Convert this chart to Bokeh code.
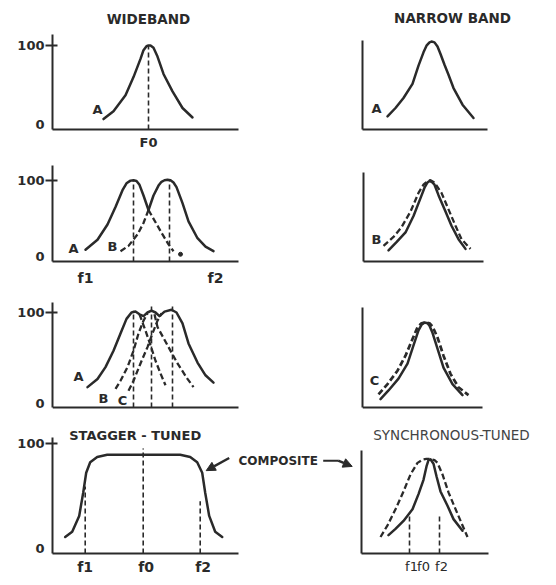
from bokeh.plotting import figure
from bokeh.layouts import column, row
from bokeh.models import FixedTicker, Arrow, NormalHead
from bokeh.core.properties import value
from bokeh.embed import file_html
from bokeh.resources import INLINE

INK = "#2a2a2a"
FONT = "DejaVu Sans"
DASH = "6 3"

# ---------------- data (frequency offset from centre, % response) ----------------
# Row 1, wideband: single stage A
WB1_A_X = [-45, -35, -23, -15, -8, -5, -2, 0, 2, 5, 9, 15, 24, 34, 44]
WB1_A_Y = [7, 17, 37, 60, 83, 94, 99, 100, 100, 97, 86, 64, 42, 21, 9]
WB1_F0 = 0
# Row 1, narrow band: single stage A
NB1_A_X = [-44, -36, -28, -19, -13, -8, -5, -2, 0, 3, 6, 9, 13, 17, 22, 31, 42]
NB1_A_Y = [10, 20, 32, 49, 71, 87, 95, 99, 100, 99, 94, 85, 72, 60, 44, 24, 8]

# Row 2, wideband: A and B staggered
WB2_A_SOLID_X = [-66, -54, -44, -36, -29, -25, -21, -18, -15, -12, -8, -3]
WB2_A_SOLID_Y = [9, 22, 42, 65, 87, 96, 99.5, 100, 99, 94, 80, 61]
WB2_A_TAIL_X = [-3, 4, 11, 17, 22]
WB2_A_TAIL_Y = [61, 45, 29, 16, 7]
WB2_B_RISE_X = [-31, -23, -14, -8, -3]
WB2_B_RISE_Y = [7, 14, 29, 44, 61]
WB2_B_SOLID_X = [-3, 2, 7, 10, 13, 16, 19, 22, 25, 31, 37, 46, 54, 62]
WB2_B_SOLID_Y = [61, 80, 93, 98, 100, 100.5, 100, 97, 91, 70, 46, 24, 13, 7]
WB2_PEAKS = [-18, 18]
WB2_DOT = (29, 3)
WB2_TICKS = {-66: "f1", 64: "f2"}
# Row 2, narrow band: A (solid) and B (dashed)
NB2_SOLID_X = [-41, -33, -24, -16, -9, -5, -2, 0, 2, 5, 9, 16, 22, 29, 36]
NB2_SOLID_Y = [7, 18, 31, 53, 77, 91, 98, 100, 99, 95, 81, 59, 40, 22, 9]
NB2_DASH_X = [-46, -36, -28, -19, -11, -6, -2, 1, 5, 12, 19, 26, 32, 41]
NB2_DASH_Y = [13, 25, 38, 59, 84, 95, 100, 101, 98, 84, 62, 40, 22, 9]

# Row 3, wideband: A, B, C staggered
WB3_ENV_X = [-64, -54, -46, -38, -31, -25, -20, -16, -12, -8, -4, 0, 4, 8, 13, 20, 25, 31, 37, 46, 54, 62]
WB3_ENV_Y = [18, 27, 40, 58, 77, 93, 100, 101, 98, 96, 100, 102, 100, 96, 101, 103, 100, 88, 66, 45, 31, 23]
WB3_A_TAIL_X = [-12, -6, -1, 4, 9, 14]
WB3_A_TAIL_Y = [98, 80, 64, 47, 33, 20]
WB3_B_RISE_X = [-36, -31, -24, -18, -13, -8, -4]
WB3_B_RISE_Y = [16, 25, 40, 58, 77, 91, 99]
WB3_B_TAIL_X = [3, 6, 16, 26, 36, 42]
WB3_B_TAIL_Y = [98, 84, 64, 44, 27, 18]
WB3_C_RISE_X = [-23, -18, -11, -4, 1, 6, 10]
WB3_C_RISE_Y = [14, 25, 44, 62, 77, 91, 99]
WB3_PEAKS = [-18, 0, 21]
WB3_PEAK_TOPS = [102, 110, 108]
# Row 3, narrow band: A (solid) and C (dashed)
NB3_SOLID_X = [-44, -36, -26, -17, -11, -6, -3, 0, 3, 5, 8, 13, 19, 28, 38]
NB3_SOLID_Y = [3, 14, 29, 48, 71, 90, 97, 100, 99, 96, 87, 67, 43, 22, 8]
NB3_DASH_X = [-46, -37, -27, -19, -12, -7, -3, 1, 5, 8, 13, 19, 26, 34, 44]
NB3_DASH_Y = [9, 22, 39, 58, 79, 94, 99, 100, 99, 95, 81, 58, 35, 18, 8]

# Row 4, stagger-tuned composite
ST_X = [-78, -71, -64, -60, -57, -53, -46, -36, 37, 47, 54, 59, 62, 66, 72, 79]
ST_Y = [11, 16, 31, 53, 72, 82, 87, 89, 89, 87, 82, 72, 53, 31, 16, 11]
ST_MARKS = [-58, 0, 57]
ST_MARK_TOPS = [59, 95, 45]
ST_TICKS = {-58: "f1", 3: "f0", 60: "f2"}
# Row 4, synchronous-tuned: composite (solid) and single stage (dashed)
SY_COMP_X = [-41, -34, -26, -17, -11, -6, -3, -1, 1, 4, 7, 11, 18, 24, 33]
SY_COMP_Y = [15, 22, 31, 44, 61, 77, 92, 99, 100, 95, 81, 64, 48, 33, 20]
SY_SINGLE_X = [-49, -42, -34, -26, -19, -12, -7, -3, 1, 5, 8, 13, 19, 28, 38]
SY_SINGLE_Y = [13, 26, 44, 64, 83, 96, 99.5, 100.5, 100.5, 99, 96, 83, 63, 39, 13]
SY_MARKS = [-20, 10]
SY_MARK_TOPS = [37, 39]
SY_TICKS = {-18: "f1", -6: "f0", 12: "f2"}

Y_TICKS = [0, 100]
Y_MARKED = [100]


def make_panel(fig_box, axis_x, axis_y, x0_px, y0_px, y100_px, axis_right, axis_top,
               yticks=None, xticks=None, xlabel_size="13px", xstandoff=6, lift=0):
    """lift > 0: frame extends `lift` px below the x axis, which is then drawn
    at a fixed location inside the frame."""
    fl, ft, fr, fb = fig_box
    sy = (y0_px - y100_px) / 100.0
    frame_bottom = axis_y + lift
    xr = (axis_x - x0_px, fr - x0_px)
    yr = ((y0_px - frame_bottom) / sy, (y0_px - ft) / sy)
    y_axis_loc = (y0_px - axis_y) / sy
    p = figure(width=fr - fl, height=fb - ft, x_range=xr, y_range=yr, title=None,
               output_backend="svg", toolbar_location=None,
               min_border_left=axis_x - fl, min_border_right=0,
               min_border_top=0, min_border_bottom=fb - frame_bottom)
    p.grid.visible = False
    p.outline_line_color = None
    p.background_fill_color = None
    p.border_fill_color = None
    xa, ya = p.xaxis[0], p.yaxis[0]
    for ax in (xa, ya):
        ax.axis_line_color = INK
        ax.axis_line_width = 2
        ax.major_tick_line_color = None
        ax.minor_tick_line_color = INK
        ax.minor_tick_line_width = 2
        ax.major_label_text_font = FONT
        ax.major_label_text_font_style = "bold"
        ax.major_label_text_color = INK
    if lift:
        xa.fixed_location = y_axis_loc
    xa.bounds = (xr[0], axis_right - x0_px)
    ya.bounds = (y_axis_loc, (y0_px - axis_top) / sy)
    xa.major_tick_in = 0
    xa.major_tick_out = 0
    xa.minor_tick_in = 0
    xa.minor_tick_out = 0
    if xticks:
        xa.ticker = FixedTicker(ticks=list(xticks.keys()), minor_ticks=[])
        xa.major_label_overrides = dict(xticks)
        xa.major_label_standoff = xstandoff
        xa.major_label_text_font_size = xlabel_size
    else:
        xa.ticker = FixedTicker(ticks=[], minor_ticks=[])
    if yticks:
        ya.ticker = FixedTicker(ticks=yticks, minor_ticks=Y_MARKED)
        ya.major_tick_in = 5
        ya.major_tick_out = 7
        ya.minor_tick_in = 5
        ya.minor_tick_out = 7
        ya.major_label_standoff = 1
        ya.major_label_text_font_size = "13px"
    else:
        ya.ticker = FixedTicker(ticks=[], minor_ticks=[])
        ya.major_tick_in = 0
        ya.major_tick_out = 0
        ya.minor_tick_in = 0
        ya.minor_tick_out = 0
    p.tags = [y_axis_loc]
    return p


def solid(p, xs, ys):
    p.line(xs, ys, line_color=INK, line_width=2.5, line_join="round", line_cap="round")


def dashed(p, xs, ys, w=2.3):
    p.line(xs, ys, line_color=INK, line_width=w, line_dash=DASH)


def verticals(p, xs, tops):
    base = p.tags[0]
    p.segment(x0=xs, y0=[base] * len(xs), x1=xs, y1=tops,
              line_color=INK, line_width=1.6, line_dash="5 3")


def txt(p, x, y, s, size="13px", style="bold", color=INK):
    p.text(x=[x], y=[y], text=[s], text_font=value(FONT), text_font_size=size,
           text_font_style=style, text_color=color, text_align="center",
           text_baseline="middle")


# ---------------- row 1 ----------------
p1 = make_panel((0, 0, 280, 152), 52, 132, 148, 127, 46, 238, 35,
                yticks=Y_TICKS, xticks={WB1_F0: "F0"}, xlabel_size="13px", xstandoff=5)
solid(p1, WB1_A_X, WB1_A_Y)
verticals(p1, [WB1_F0], [100])
txt(p1, -51, 19, "A")
txt(p1, 0, 134, "WIDEBAND", size="13.5px")

p2 = make_panel((280, 0, 548, 152), 362, 132, 431, 127, 42, 487, 41)
solid(p2, NB1_A_X, NB1_A_Y)
txt(p2, -55, 20, "A")
txt(p2, 21, 128, "NARROW BAND", size="13.5px")

# ---------------- row 2 ----------------
p3 = make_panel((0, 152, 280, 288), 52, 262, 151, 257, 180, 238, 165,
                yticks=Y_TICKS, xticks=WB2_TICKS, xlabel_size="14px", xstandoff=8)
solid(p3, WB2_A_SOLID_X, WB2_A_SOLID_Y)
solid(p3, WB2_B_SOLID_X, WB2_B_SOLID_Y)
dashed(p3, WB2_A_TAIL_X, WB2_A_TAIL_Y)
dashed(p3, WB2_B_RISE_X, WB2_B_RISE_Y)
verticals(p3, WB2_PEAKS, [100, 100])
p3.scatter([WB2_DOT[0]], [WB2_DOT[1]], size=4, color=INK)
txt(p3, -78, 11, "A")
txt(p3, -39, 13, "B")

p4 = make_panel((280, 152, 548, 288), 363, 263, 429, 257, 181, 483, 172)
solid(p4, NB2_SOLID_X, NB2_SOLID_Y)
dashed(p4, NB2_DASH_X, NB2_DASH_Y)
txt(p4, -53, 22, "B")

# ---------------- row 3 ----------------
p5 = make_panel((0, 288, 280, 427), 52, 407, 151, 403, 312, 238, 302,
                yticks=Y_TICKS, lift=6)
solid(p5, WB3_ENV_X, WB3_ENV_Y)
dashed(p5, WB3_A_TAIL_X, WB3_A_TAIL_Y)
dashed(p5, WB3_B_RISE_X, WB3_B_RISE_Y)
dashed(p5, WB3_B_TAIL_X, WB3_B_TAIL_Y)
dashed(p5, WB3_C_RISE_X, WB3_C_RISE_Y)
verticals(p5, WB3_PEAKS, WB3_PEAK_TOPS)
txt(p5, -73, 30, "A")
txt(p5, -48, 6, "B")
txt(p5, -29, 3, "C")

p6 = make_panel((280, 288, 548, 427), 362, 407, 424, 401, 322, 482, 307, lift=6)
solid(p6, NB3_SOLID_X, NB3_SOLID_Y)
dashed(p6, NB3_DASH_X, NB3_DASH_Y, w=2.7)
txt(p6, -50, 26, "C")

# ---------------- row 4 ----------------
p7 = make_panel((0, 427, 355, 577), 52, 555, 142.7, 550, 443, 238, 437,
                yticks=Y_TICKS, xticks=ST_TICKS, xlabel_size="14px", xstandoff=5)
solid(p7, ST_X, ST_Y)
verticals(p7, ST_MARKS, ST_MARK_TOPS)
txt(p7, -8, 107.5, "STAGGER - TUNED", size="13px")
txt(p7, 135, 83.5, "COMPOSITE", size="12px")
p7.add_layout(Arrow(end=NormalHead(size=9, fill_color=INK, line_color=INK),
                    x_start=86, y_start=86, x_end=63, y_end=74,
                    line_color=INK, line_width=2.5))
p7.line([180, 195], [83.5, 83.5], line_color=INK, line_width=2)
p7.add_layout(Arrow(end=NormalHead(size=9, fill_color=INK, line_color=INK),
                    x_start=195, y_start=83.5, x_end=209, y_end=78,
                    line_color=INK, line_width=2.5))

p8 = make_panel((355, 427, 548, 577), 361, 555, 429, 550, 459.3, 488, 450,
                xticks=SY_TICKS, xlabel_size="13px", xstandoff=5)
solid(p8, SY_COMP_X, SY_COMP_Y)
dashed(p8, SY_SINGLE_X, SY_SINGLE_Y)
verticals(p8, SY_MARKS, SY_MARK_TOPS)
txt(p8, 22, 127, "SYNCHRONOUS-TUNED", size="13.5px", style="normal", color="#444444")
p8.xaxis[0].major_label_text_font_style = "normal"

layout = column(row(p1, p2), row(p3, p4), row(p5, p6), row(p7, p8))

open("out.html", "w").write(file_html(layout, INLINE))
